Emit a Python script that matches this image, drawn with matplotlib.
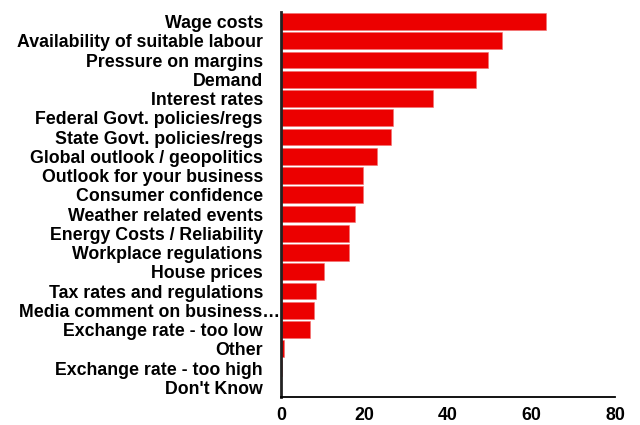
import matplotlib.pyplot as plt
import matplotlib.transforms as mtransforms

categories = [
    "Wage costs", "Availability of suitable labour", "Pressure on margins", "Demand",
    "Interest rates", "Federal Govt. policies/regs", "State Govt. policies/regs",
    "Global outlook / geopolitics", "Outlook for your business", "Consumer confidence",
    "Weather related events", "Energy Costs / Reliability", "Workplace regulations",
    "House prices", "Tax rates and regulations", "Media comment on business\u2026",
    "Exchange rate - too low", "Other", "Exchange rate - too high", "Don't Know",
]
values = [63.5, 52.9, 49.6, 46.7, 36.4, 26.8, 26.3, 23.0, 19.6, 19.6,
          17.7, 16.2, 16.2, 10.4, 8.5, 8.0, 7.0, 0.8, 0.3, 0.0]
xticks = [0, 20, 40, 60, 80]

plt.rcParams['font.family'] = ['Liberation Sans', 'DejaVu Sans']

fig = plt.figure(figsize=(6.4, 4.25), dpi=100)
ax = fig.add_axes([0.439, 0.066, 0.522, 0.906])

pos = list(range(len(categories)))
ax.barh(pos, values, height=0.87, color='#ec0000', edgecolor='#f07070', linewidth=0.4)
ax.set_ylim(len(categories) - 0.5, -0.5)
ax.set_xlim(0, 80)
ax.set_xticks(xticks)
ax.set_yticks(pos)
ax.set_yticklabels(categories, fontsize=12.8, fontweight='bold')
ax.set_xticklabels([str(t) for t in xticks], fontsize=12.8, fontweight='bold')
ax.tick_params(axis='y', length=0, pad=13)
ax.tick_params(axis='x', length=0, pad=7)

# the truncated label runs past the others, as in the source
lbl = ax.get_yticklabels()[15]
lbl.set_transform(lbl.get_transform() + mtransforms.ScaledTranslation(17 / 100, 0, fig.dpi_scale_trans))

for side in ['top', 'right']:
    ax.spines[side].set_visible(False)
ax.spines['left'].set_linewidth(2)
ax.spines['left'].set_color('#222222')
ax.spines['bottom'].set_linewidth(1.3)

fig.savefig('out.png', dpi=100)
